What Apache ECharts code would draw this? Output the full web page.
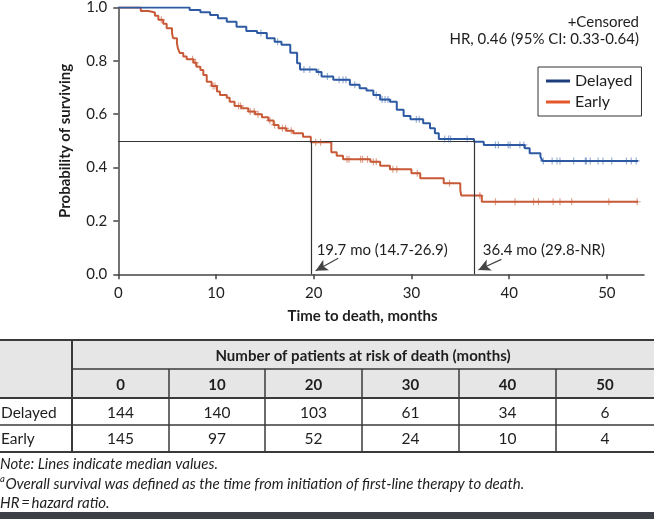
<!DOCTYPE html>
<html><head><meta charset="utf-8">
<script src="https://cdn.jsdelivr.net/npm/echarts@6/dist/echarts.min.js"></script>
<style>html,body{margin:0;padding:0;background:#fff}#c{width:654px;height:519px}</style>
</head><body><div id="c"></div>
<script>
// ---- Data ----
const delayedTime = [0, 7.3, 8.4, 9.4, 10.2, 11.1, 12.1, 13.1, 14.2, 15.2, 16.0, 16.7, 17.6, 18.3, 18.6, 20.3, 20.8, 22.0, 23.7, 24.7, 25.4, 26.1, 26.8, 27.8, 28.5, 29.2, 29.9, 31.2, 31.9, 32.4, 32.8, 36.4, 37.4, 41.6, 42.1, 43.2, 43.4, 53.2];
const delayedSurv = [1.0, 0.991, 0.982, 0.972, 0.960, 0.947, 0.928, 0.912, 0.904, 0.885, 0.872, 0.860, 0.830, 0.791, 0.768, 0.758, 0.741, 0.729, 0.710, 0.697, 0.689, 0.672, 0.655, 0.647, 0.617, 0.593, 0.581, 0.566, 0.547, 0.529, 0.507, 0.497, 0.485, 0.472, 0.454, 0.441, 0.425, 0.425];
const earlyTime = [0, 2.3, 3.1, 3.75, 4.1, 4.6, 4.95, 5.5, 5.6, 6.0, 6.1, 6.3, 6.65, 7.0, 7.7, 8.0, 8.4, 8.7, 9.05, 9.55, 10.1, 10.4, 11.1, 11.4, 11.9, 12.6, 13.3, 14.0, 14.7, 15.35, 15.9, 16.4, 17.2, 17.9, 18.9, 19.7, 21.8, 22.35, 23.0, 25.8, 26.8, 27.8, 30.0, 30.9, 33.3, 35.0, 35.1, 37.2, 53.2];
const earlySurv = [1.0, 0.987, 0.981, 0.969, 0.954, 0.939, 0.922, 0.904, 0.885, 0.866, 0.847, 0.829, 0.816, 0.806, 0.793, 0.778, 0.766, 0.747, 0.722, 0.706, 0.685, 0.672, 0.662, 0.647, 0.631, 0.622, 0.610, 0.600, 0.589, 0.576, 0.560, 0.547, 0.538, 0.529, 0.516, 0.495, 0.457, 0.444, 0.431, 0.422, 0.407, 0.394, 0.379, 0.360, 0.341, 0.316, 0.295, 0.272, 0.272];
const delayedCensor = [14.6, 16.3, 19.0, 19.6, 20.5, 21.4, 22.6, 23.0, 23.3, 24.2, 26.4, 27.0, 27.3, 27.6, 30.5, 30.8, 33.4, 33.8, 34.0, 35.7, 38.6, 38.9, 39.9, 40.1, 41.1, 41.5, 43.5, 44.4, 44.9, 45.2, 46.6, 47.8, 47.9, 48.3, 49.1, 49.6, 50.5, 52.0, 52.5, 53.0];
const earlyCensor = [4.4, 7.6, 7.9, 9.7, 9.9, 12.3, 12.5, 13.5, 13.9, 14.3, 15.5, 16.0, 16.8, 17.1, 17.7, 20.2, 20.7, 23.4, 23.6, 24.8, 25.0, 25.5, 26.1, 26.4, 28.1, 28.5, 30.6, 33.9, 37.0, 38.6, 40.6, 42.5, 43.0, 44.5, 45.2, 46.4, 50.2, 53.1];
const medianDelayed = 36.4;
const medianEarly = 19.7;
const medianDelayedText = '36.4 mo (29.8-NR)';
const medianEarlyText = '19.7 mo (14.7-26.9)';
const riskTimes = [0, 10, 20, 30, 40, 50];
const riskDelayed = [144, 140, 103, 61, 34, 6];
const riskEarly = [145, 97, 52, 24, 10, 4];

// ---- helpers ----
function stepAt(T, S, t) { let v = S[0]; for (let i = 0; i < T.length; i++) { if (T[i] <= t) v = S[i]; } return v; }
const zip = (a, b) => a.map((v, i) => [v, b[i]]);
const FONT = 'Lato';
const TXT = '#1f1d1e';
const BLUE = '#2d5aa3';
const ORANGE = '#c85a38';
const plus = 'path://M5,0L5,10M0,5L10,5';

const chart = echarts.init(document.getElementById('c'), null, { renderer: 'canvas' });

const option = {
  animation: false,
  backgroundColor: '#fff',
  grid: { left: 118.3, right: 10, top: 7.3, bottom: 244.7, containLabel: false },
  legend: {
    orient: 'vertical', left: 538, top: 67, padding: [5, 9, 5, 8],
    borderColor: '#333', borderWidth: 1, itemWidth: 24, itemHeight: 3, itemGap: 3,
    icon: 'rect', selectedMode: false,
    textStyle: { fontSize: 16, fontFamily: FONT, color: TXT, lineHeight: 18 },
    data: [{ name: 'Delayed', itemStyle: { color: '#1d3c7c' } }, { name: 'Early', itemStyle: { color: '#e4572a' } }]
  },
  xAxis: {
    type: 'value', min: 0, max: 53.8,
    axisLine: { lineStyle: { color: '#444', width: 1.5 } },
    axisTick: { show: true, length: 5, customValues: riskTimes, lineStyle: { color: '#444', width: 1.5 } },
    axisLabel: { customValues: riskTimes, margin: 11, fontSize: 15, fontFamily: FONT, color: TXT },
    splitLine: { show: false }
  },
  yAxis: {
    type: 'value', min: 0, max: 1, interval: 0.2,
    name: 'Probability of surviving', nameLocation: 'middle', nameGap: 46, nameRotate: 90,
    nameTextStyle: { fontSize: 15, fontWeight: 'bold', fontFamily: FONT, color: TXT },
    axisLine: { show: true, lineStyle: { color: '#444', width: 1.5 } },
    axisTick: { show: true, length: 5, lineStyle: { color: '#444', width: 1.5 } },
    axisLabel: { margin: 11, fontSize: 15, fontFamily: FONT, color: TXT, formatter: v => v.toFixed(1) },
    splitLine: { show: false }
  },
  series: [
    {
      name: 'Early', type: 'line', step: 'end', symbol: 'none', z: 3,
      lineStyle: { color: ORANGE, width: 2 }, itemStyle: { color: ORANGE },
      data: zip(earlyTime, earlySurv)
    },
    {
      name: 'Delayed', type: 'line', step: 'end', symbol: 'none', z: 4,
      lineStyle: { color: BLUE, width: 2 }, itemStyle: { color: BLUE },
      data: zip(delayedTime, delayedSurv)
    },
    {
      name: 'Early censored', type: 'scatter', symbol: plus, symbolSize: 7, z: 5,
      itemStyle: { color: 'rgba(0,0,0,0)', borderColor: 'rgba(200,90,56,0.7)', borderWidth: 1.2 },
      data: earlyCensor.map(t => [t, stepAt(earlyTime, earlySurv, t)])
    },
    {
      name: 'Delayed censored', type: 'scatter', symbol: plus, symbolSize: 7, z: 5,
      itemStyle: { color: 'rgba(0,0,0,0)', borderColor: 'rgba(45,90,163,0.6)', borderWidth: 1.2 },
      data: delayedCensor.map(t => [t, stepAt(delayedTime, delayedSurv, t)])
    },
    {
      name: 'medians', type: 'line', data: [], z: 2,
      markLine: {
        silent: true, symbol: 'none', animation: false,
        label: { show: false },
        lineStyle: { color: '#333', width: 1.2, type: 'solid' },
        data: [
          [{ coord: [0, 0.5] }, { coord: [medianDelayed, 0.5] }],
          [{ coord: [medianEarly, 0] }, { coord: [medianEarly, 0.5] }],
          [{ coord: [medianDelayed, 0] }, { coord: [medianDelayed, 0.5] }]
        ]
      }
    },
    {
      name: 'arrows', type: 'line', data: [], z: 2,
      markLine: {
        silent: true, symbol: ['none', 'arrow'], symbolSize: [9, 12], animation: false,
        label: { show: false },
        lineStyle: { color: '#444', width: 1.2, type: 'solid' },
        data: [
          [{ coord: [medianEarly + 2.8, 0.06] }, { coord: [medianEarly + 0.5, 0.013] }],
          [{ coord: [medianDelayed + 2.8, 0.056] }, { coord: [medianDelayed + 0.45, 0.016] }]
        ]
      }
    }
  ]
};
chart.setOption(option);

// ---- text annotations and table (graphic) ----
const g = [];
const p1 = chart.convertToPixel({ gridIndex: 0 }, [medianEarly + 0.6, 0.091]);
const p2 = chart.convertToPixel({ gridIndex: 0 }, [medianDelayed + 0.9, 0.091]);
g.push({ type: 'text', x: p1[0], y: p1[1], style: { text: medianEarlyText, font: '15px ' + FONT, fill: TXT, align: 'left', verticalAlign: 'middle' } });
g.push({ type: 'text', x: p2[0], y: p2[1], style: { text: medianDelayedText, font: '15px ' + FONT, fill: TXT, align: 'left', verticalAlign: 'middle' } });
g.push({ type: 'text', x: 639, y: 22.5, style: { text: '+Censored', font: '15px ' + FONT, fill: TXT, align: 'right', verticalAlign: 'middle' } });
g.push({ type: 'text', x: 639, y: 39.5, style: { text: 'HR, 0.46 (95% CI: 0.33-0.64)', font: '15px ' + FONT, fill: TXT, align: 'right', verticalAlign: 'middle' } });
const xt = chart.convertToPixel({ xAxisIndex: 0 }, 25);
g.push({ type: 'text', x: xt, y: 316, style: { text: 'Time to death, months', font: 'bold 15px ' + FONT, fill: TXT, align: 'center', verticalAlign: 'middle' } });

// table
const edges = [0, 72, 169, 265, 362, 459, 556, 654];
const yTop = 340, yH1 = 369, yH2 = 398, yR1 = 425, yR2 = 452;
g.push({ type: 'rect', shape: { x: 0, y: yTop, width: 654, height: yH2 - yTop }, style: { fill: '#e6e6e6' } });
g.push({ type: 'text', x: (edges[1] + edges[7]) / 2, y: 356, style: { text: 'Number of patients at risk of death (months)', font: 'bold 15px ' + FONT, fill: TXT, align: 'center', verticalAlign: 'middle' } });
for (let i = 0; i < riskTimes.length; i++) {
  const cx = (edges[i + 1] + edges[i + 2]) / 2;
  g.push({ type: 'text', x: cx, y: 385, style: { text: String(riskTimes[i]), font: 'bold 15px ' + FONT, fill: TXT, align: 'center', verticalAlign: 'middle' } });
  g.push({ type: 'text', x: cx, y: 412.5, style: { text: String(riskDelayed[i]), font: '15.5px ' + FONT, fill: TXT, align: 'center', verticalAlign: 'middle' } });
  g.push({ type: 'text', x: cx, y: 439, style: { text: String(riskEarly[i]), font: '15.5px ' + FONT, fill: TXT, align: 'center', verticalAlign: 'middle' } });
}
g.push({ type: 'text', x: 1, y: 412.5, style: { text: 'Delayed', font: '15.5px ' + FONT, fill: TXT, align: 'left', verticalAlign: 'middle' } });
g.push({ type: 'text', x: 1, y: 439, style: { text: 'Early', font: '15.5px ' + FONT, fill: TXT, align: 'left', verticalAlign: 'middle' } });
const L = (x1, y1, x2, y2, w) => g.push({ type: 'line', shape: { x1, y1, x2, y2 }, style: { stroke: '#3a3a3a', lineWidth: w } });
L(0, yTop, 654, yTop, 2);
L(edges[1], yH1, 654, yH1, 1.5);
L(0, yH2, 654, yH2, 2);
L(0, yR1, 654, yR1, 1.5);
L(0, yR2, 654, yR2, 2);
L(edges[1], yTop, edges[1], yR2, 2);
for (let i = 2; i < 7; i++) L(edges[i], yH1, edges[i], yR2, 1.5);

// notes
g.push({ type: 'text', x: 0, y: 464, style: { text: 'Note: Lines indicate median values.', font: 'italic 15px ' + FONT, fill: TXT, align: 'left', verticalAlign: 'middle' } });
g.push({ type: 'text', x: 0, y: 479, style: { text: 'a', font: 'italic 9.5px ' + FONT, fill: TXT, align: 'left', verticalAlign: 'middle' } });
g.push({ type: 'text', x: 5.5, y: 484, style: { text: 'Overall survival was defined as the time from initiation of first-line therapy to death.', font: 'italic 15px ' + FONT, fill: TXT, align: 'left', verticalAlign: 'middle' } });
g.push({ type: 'text', x: 0, y: 503, style: { text: 'HR\u2009=\u2009hazard ratio.', font: 'italic 15px ' + FONT, fill: TXT, align: 'left', verticalAlign: 'middle' } });
g.push({ type: 'rect', shape: { x: 0, y: 512, width: 654, height: 7 }, style: { fill: '#3d4047' } });

chart.setOption({ graphic: g });
</script></body></html>
